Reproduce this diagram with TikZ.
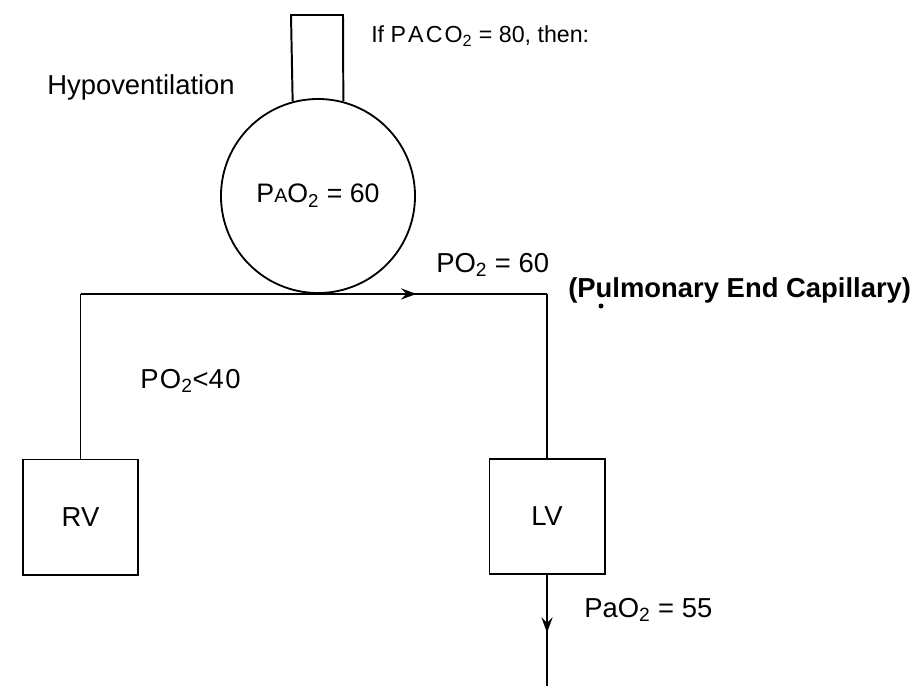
\documentclass[tikz,border=0pt]{standalone}
\usepackage{fontspec}
\setmainfont{Liberation Sans}
\usetikzlibrary{arrows.meta, decorations.markings}

\tikzset{
  lbl/.style={font=\fontsize{19.5}{23}\selectfont, inner sep=0pt, anchor=west},
  chamber/.style={draw, line width=1.4pt, minimum size=2.875cm, inner sep=0pt,
    font=\fontsize{19.5}{23}\selectfont},
  vessel/.style={line width=1.4pt},
  midarrow/.style={postaction={decorate}, decoration={markings,
    mark=at position #1 with {\arrow{Stealth[length=11pt, width=8pt, inset=4pt]}}}}
}

\begin{document}
\begin{tikzpicture}[x=0.025cm, y=-0.025cm]
        \useasboundingbox (0,0) rectangle (922,686);

        % Alveolus (flask) with its neck
        \node[circle, draw, line width=1.3pt, minimum size=4.85cm, inner sep=0pt,
          font=\fontsize{19}{23}\selectfont] (alv) at (318,196)
          {P{\fontsize{14}{16}\selectfont A}O\textsubscript{2} = 60};
        \draw[vessel] (alv.105) -- (291,15) -- (343,15) -- (alv.75);

        % Ventricles
        \node[chamber] (RV) at (80.5,517) {RV};
        \node[chamber] (LV) at (547,516.5) {LV};

        \coordinate (jl) at (RV.north |- alv.south);
        \coordinate (jr) at (LV.north |- alv.south);
        \coordinate (out) at (547,686);

        \draw[vessel] (RV.north) -- (jl);
        \draw[vessel, midarrow=0.72] (jl) -- (jr);
        \draw[vessel] (jr) -- (LV.north);
        \draw[vessel, midarrow=0.52] (LV.south) -- (out);

        % Labels
        \node[lbl, font=\fontsize{16.5}{20}\selectfont] (paco) at (371,36)
          {If P\kern1.5pt A\kern1.5pt C\kern1.5pt O\textsubscript{2} = 80, then:};
        \node[lbl] (hypo) at (47,87) {Hypoventilation};
        \node[lbl] (po2a) at (436,265) {PO\textsubscript{2} = 60};
        \node[lbl, font=\fontsize{19.5}{23}\bfseries] (pec) at (568,290)
          {(Pulmonary End Capillary)};
        \node[lbl] (po2v) at (140,381) {P\kern1pt O\textsubscript{2}<4\kern1pt 0};
        \node[lbl] (pao2) at (584,610) {PaO\textsubscript{2} = 55};

        \fill (601,306) circle (2.5);
      \end{tikzpicture}
\end{document}
